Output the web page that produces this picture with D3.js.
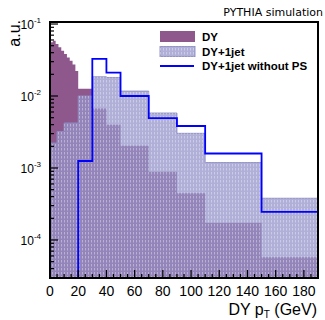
<!DOCTYPE html>
<html>
<head>
<meta charset="utf-8">
<script src="https://cdn.jsdelivr.net/npm/d3@7"></script>
<style>
  body { margin: 0; background: #fff; }
  text { font-family: "Liberation Sans", Arial, sans-serif; }
</style>
</head>
<body>
<div id="chart"></div>
<script>
// bin edges (GeV) and contents (a.u.)
const dyEdges = [0, 2, 4, 6, 8, 10, 12, 14, 16, 18, 20, 30, 40, 50, 70, 90, 110, 150, 190];
const dyValues = [0.056, 0.0585, 0.0528, 0.0475, 0.0426, 0.0383, 0.0344, 0.0309, 0.0275, 0.0222,
  0.0126, 0.0067, 0.0040, 0.00204, 0.00089, 0.000445, 0.000174, 0.0000575];

const jetEdges = [0, 5, 10, 20, 30, 40, 50, 70, 90, 110, 150, 190];
const jetValues = [0.00222, 0.00321, 0.00422, 0.0100, 0.0185, 0.0181, 0.0117, 0.0058, 0.00303, 0.00119, 0.00038];
const noPsValues = [0, 0, 0, 0.00125, 0.0327, 0.0211, 0.0100, 0.00494, 0.00383, 0.00159, 0.000245];

const xTicks = [0, 20, 40, 60, 80, 100, 120, 140, 160, 180];
const yTicks = [1e-4, 1e-3, 1e-2, 1e-1];
const yTickLabels = ['-4', '-3', '-2', '-1'];

const legendLabels = ['DY', 'DY+1jet', 'DY+1jet without PS'];

const width = 325, height = 320;
const frame = { left: 50, right: 318, top: 22, bottom: 278 };

const svg = d3.select('#chart').append('svg')
  .attr('width', width).attr('height', height);

const x = d3.scaleLinear().domain([0, 190]).range([frame.left, frame.right]);
const y = d3.scaleLog()
  .domain([Math.pow(10, -4.528), Math.pow(10, -0.972)])
  .range([frame.bottom, frame.top]);
const yMin = y.domain()[0];

const defs = svg.append('defs');
defs.append('clipPath').attr('id', 'clip')
  .append('rect')
  .attr('x', frame.left).attr('y', frame.top)
  .attr('width', frame.right - frame.left).attr('height', frame.bottom - frame.top);

// vertical hatching for DY+1jet
const pat = defs.append('pattern').attr('id', 'hatch')
  .attr('patternUnits', 'userSpaceOnUse').attr('width', 3).attr('height', 4);
pat.append('rect').attr('x', 1).attr('y', 0).attr('width', 1).attr('height', 2.5)
  .attr('fill', 'rgba(255,255,255,0.35)');

// turn edges + contents into step points
function steps(edges, values) {
  const pts = values.map((v, i) => [edges[i], v]);
  pts.push([edges[edges.length - 1], values[values.length - 1]]);
  return pts;
}
const yv = v => y(Math.max(v, yMin));

const area = d3.area()
  .x(d => x(d[0]))
  .y0(frame.bottom)
  .y1(d => yv(d[1]))
  .curve(d3.curveStepAfter);
const line = d3.line()
  .x(d => x(d[0]))
  .y(d => yv(d[1]))
  .curve(d3.curveStepAfter);

const plot = svg.append('g').attr('clip-path', 'url(#clip)');

// DY
plot.append('path')
  .attr('d', area(steps(dyEdges, dyValues)))
  .attr('fill', '#8e588c');

// DY+1jet
const jetPts = steps(jetEdges, jetValues);
plot.append('path')
  .attr('d', area(jetPts))
  .attr('fill', 'rgba(148,148,202,0.75)')
  .attr('stroke', 'rgba(140,140,195,0.9)')
  .attr('stroke-width', 1);
plot.append('path')
  .attr('d', area(jetPts))
  .attr('fill', 'url(#hatch)');

// DY+1jet without PS
plot.append('path')
  .attr('d', line(steps(jetEdges, noPsValues)))
  .attr('fill', 'none')
  .attr('stroke', '#0000ff')
  .attr('stroke-width', 1.8);

// ticks
const axes = svg.append('g').attr('stroke', '#000');
d3.range(0, 191, 5).forEach(v => {
  const len = v % 20 === 0 ? 8 : 4;
  axes.append('line')
    .attr('x1', x(v)).attr('x2', x(v))
    .attr('y1', frame.bottom).attr('y2', frame.bottom - len)
    .attr('stroke-width', 1.2);
});
for (let e = -5; e <= -1; e++) {
  for (let m = 1; m <= 9; m++) {
    const v = m * Math.pow(10, e);
    if (v < yMin || v > y.domain()[1]) continue;
    const len = m === 1 ? 8 : 4;
    axes.append('line')
      .attr('x1', frame.left).attr('x2', frame.left + len)
      .attr('y1', y(v)).attr('y2', y(v))
      .attr('stroke-width', 1.2);
  }
}

// frame
svg.append('rect')
  .attr('x', frame.left).attr('y', frame.top)
  .attr('width', frame.right - frame.left).attr('height', frame.bottom - frame.top)
  .attr('fill', 'none').attr('stroke', '#000').attr('stroke-width', 2);

// x tick labels
svg.append('g').selectAll('text').data(xTicks).enter()
  .append('text')
  .attr('x', d => x(d)).attr('y', 296)
  .attr('text-anchor', 'middle')
  .attr('font-size', 14)
  .text(d => d);

// y tick labels 10^n
const yl = svg.append('g').selectAll('text').data(yTicks).enter()
  .append('text')
  .attr('x', 41).attr('y', d => y(d) + 5)
  .attr('text-anchor', 'end')
  .attr('font-size', 12);
yl.append('tspan').text('10');
yl.append('tspan').attr('dy', -6).attr('font-size', 8).text((d, i) => yTickLabels[i]);

// axis titles
svg.append('text')
  .attr('transform', 'translate(20,20) rotate(-90)')
  .attr('text-anchor', 'end')
  .attr('font-size', 16)
  .text('a.u.');

const xt = svg.append('text')
  .attr('x', 317).attr('y', 315)
  .attr('text-anchor', 'end')
  .attr('font-size', 16);
xt.append('tspan').text('DY p');
xt.append('tspan').attr('dy', 3).attr('font-size', 10).text('T');
xt.append('tspan').attr('dy', -3).text(' (GeV)');

svg.append('text')
  .attr('x', 323).attr('y', 16)
  .attr('text-anchor', 'end')
  .attr('font-size', 11)
  .style('font-family', '"DejaVu Sans", sans-serif')
  .text('PYTHIA simulation');

// legend
const lg = svg.append('g');
lg.append('rect').attr('x', 160).attr('y', 31).attr('width', 35).attr('height', 11)
  .attr('fill', '#8e588c');
lg.append('rect').attr('x', 160).attr('y', 46.5).attr('width', 35).attr('height', 10)
  .attr('fill', 'rgba(148,148,202,0.75)').attr('stroke', 'rgba(140,140,195,0.9)');
lg.append('rect').attr('x', 160).attr('y', 46.5).attr('width', 35).attr('height', 10)
  .attr('fill', 'url(#hatch)');
lg.append('line').attr('x1', 160).attr('x2', 194).attr('y1', 66).attr('y2', 66)
  .attr('stroke', '#0000ff').attr('stroke-width', 1.8);
lg.selectAll('text.lab').data(legendLabels).enter()
  .append('text')
  .attr('x', 202).attr('y', (d, i) => 41 + i * 14.7)
  .attr('font-size', 11.5)
  .attr('font-weight', 'bold')
  .text(d => d);
</script>
</body>
</html>
